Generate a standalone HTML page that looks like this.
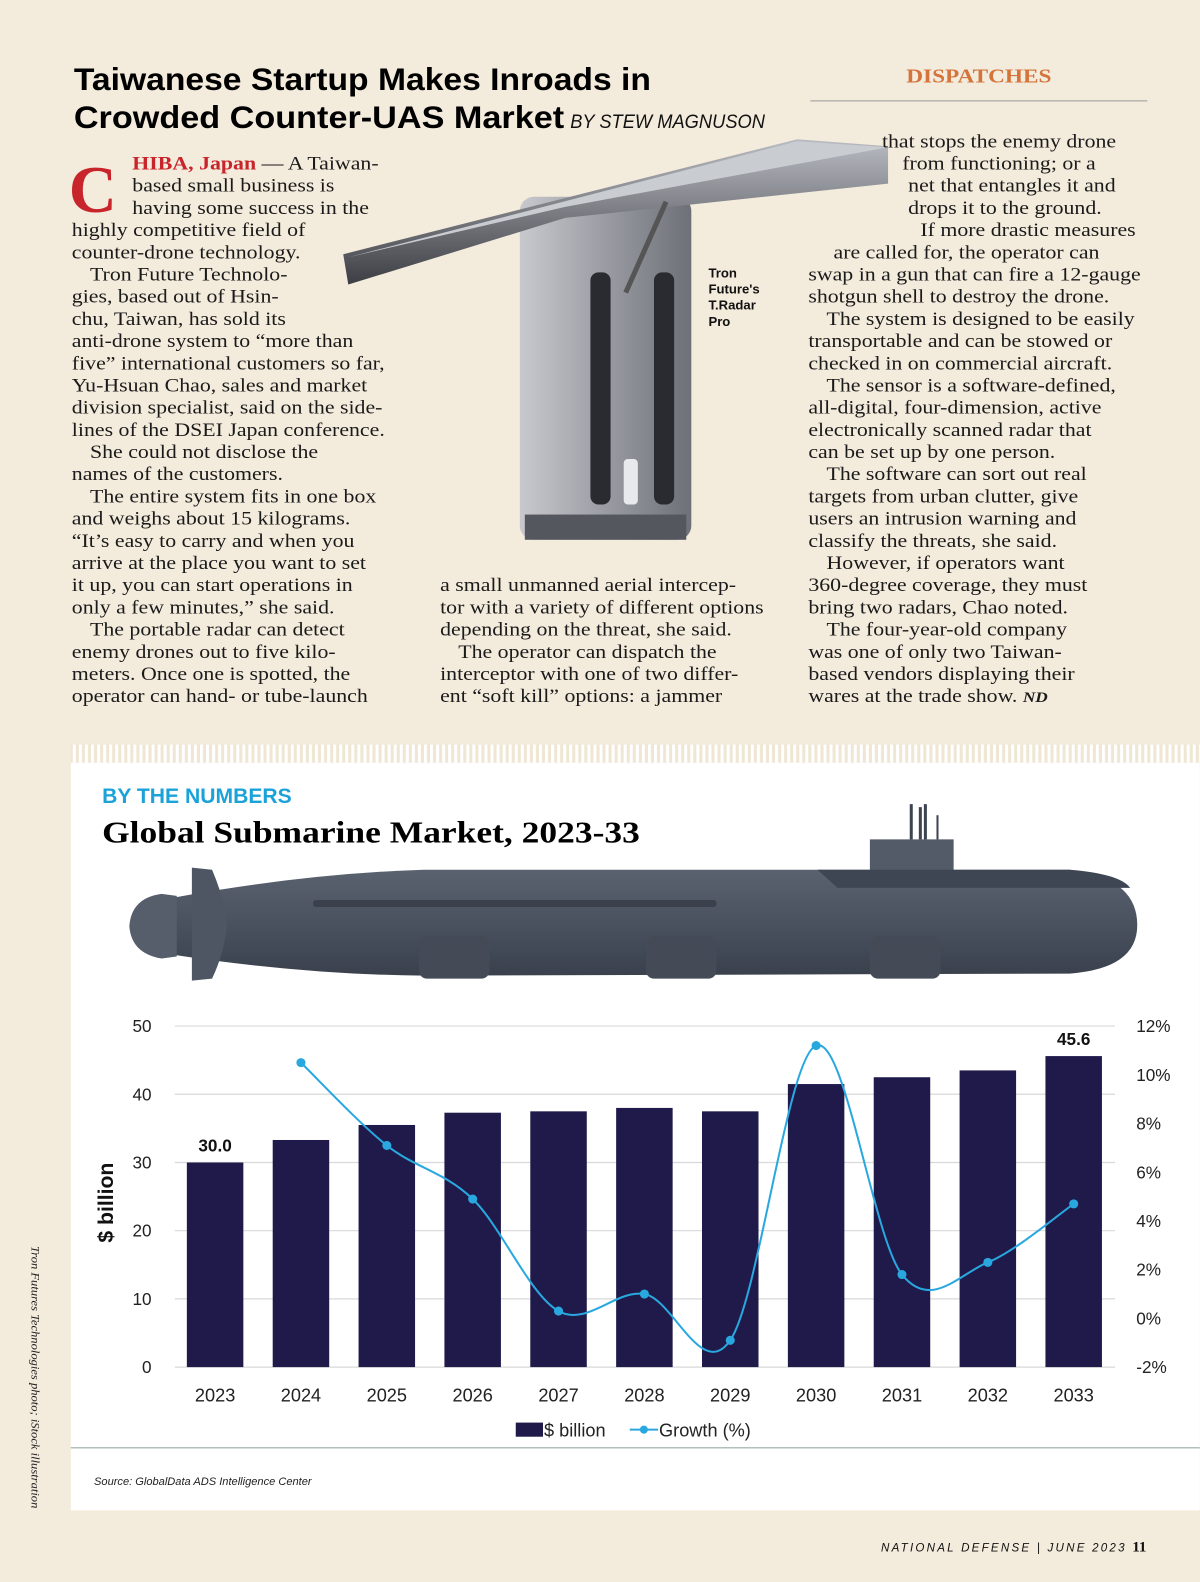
<!DOCTYPE html>
<html><head><meta charset="utf-8"><style>
html,body{margin:0;padding:0;background:#f3ebdc;}
svg{display:block;}
.serif{font-family:"Liberation Serif",serif;}
.sans{font-family:"Liberation Sans",sans-serif;}
</style></head><body>
<svg id="page" width="1200" height="1582" viewBox="0 0 1189 1568" xmlns="http://www.w3.org/2000/svg">
<defs>
<pattern id="stripes" width="6" height="20" patternUnits="userSpaceOnUse"><rect width="6" height="20" fill="#efe6d3"/><rect width="3" height="20" fill="#ffffff"/></pattern>
<linearGradient id="bodyG" x1="0" x2="1"><stop offset="0" stop-color="#c7c9ce"/><stop offset="0.5" stop-color="#9a9ca3"/><stop offset="1" stop-color="#6e7078"/></linearGradient>
<linearGradient id="panelG" x1="0" x2="0" y1="0" y2="1"><stop offset="0" stop-color="#b9bcc2"/><stop offset="1" stop-color="#3c3e44"/></linearGradient>
<linearGradient id="hullG" x1="0" x2="0" y1="0" y2="1"><stop offset="0" stop-color="#5a6270"/><stop offset="0.5" stop-color="#4a5260"/><stop offset="1" stop-color="#3a414d"/></linearGradient>
</defs>
<rect width="1189" height="1568" fill="#f3ebdc"/>

<text class="sans" x="73" y="89" font-size="31" font-weight="bold" textLength="572" lengthAdjust="spacingAndGlyphs" fill="#000">Taiwanese Startup Makes Inroads in</text>
<text class="sans" x="73" y="127" font-size="31" font-weight="bold" textLength="486" lengthAdjust="spacingAndGlyphs" fill="#000">Crowded Counter-UAS Market</text>
<text class="sans" x="565" y="127" font-size="19" font-style="italic" textLength="193" lengthAdjust="spacingAndGlyphs" fill="#111">BY STEW MAGNUSON</text>
<text class="serif" x="898" y="82" font-size="20" font-weight="bold" fill="#d4743a" textLength="144" lengthAdjust="spacingAndGlyphs">DISPATCHES</text>
<line x1="803" y1="100" x2="1137" y2="100" stroke="#999" stroke-width="1"/>

<g>
<rect x="515" y="195" width="170" height="340" rx="14" fill="url(#bodyG)"/>
<rect x="520" y="510" width="160" height="25" fill="#55575e"/>
<rect x="585" y="270" width="20" height="230" rx="8" fill="#2a2b30"/>
<rect x="648" y="270" width="20" height="230" rx="8" fill="#2a2b30"/>
<rect x="618" y="455" width="14" height="45" rx="4" fill="#e8e9ec"/>
<polygon points="340,252 790,138 880,145 880,182 560,216 345,282" fill="url(#panelG)"/>
<polygon points="345,255 790,140 880,146 560,205" fill="#c9ccd1"/>
<line x1="620" y1="290" x2="660" y2="200" stroke="#555" stroke-width="5"/>
</g>
<text class="sans" font-size="13" font-weight="bold" fill="#111"><tspan x="702" y="275">Tron</tspan><tspan x="702" y="291">Future's</tspan><tspan x="702" y="307">T.Radar</tspan><tspan x="702" y="323">Pro</tspan></text>

<text class="serif" x="68" y="210" font-size="66" font-weight="bold" fill="#c8242b">C</text>
<g class="serif" font-size="19" fill="#1a1a1a" transform="translate(71,0) scale(1.14,1) translate(-71,0)">
<text x="123.6" y="168"><tspan fill="#c8242b" font-weight="bold">HIBA, Japan</tspan> — A Taiwan-</text>
<text x="123.6" y="190">based small business is</text>
<text x="123.6" y="212">having some success in the</text>
<text x="71" y="234">highly competitive field of</text>
<text x="71" y="256">counter-drone technology.</text>
<text x="86.8" y="278">Tron Future Technolo-</text>
<text x="71" y="300">gies, based out of Hsin-</text>
<text x="71" y="322">chu, Taiwan, has sold its</text>
<text x="71" y="344">anti-drone system to “more than</text>
<text x="71" y="366">five” international customers so far,</text>
<text x="71" y="388">Yu-Hsuan Chao, sales and market</text>
<text x="71" y="410">division specialist, said on the side-</text>
<text x="71" y="432">lines of the DSEI Japan conference.</text>
<text x="86.8" y="454">She could not disclose the</text>
<text x="71" y="476">names of the customers.</text>
<text x="86.8" y="498">The entire system fits in one box</text>
<text x="71" y="520">and weighs about 15 kilograms.</text>
<text x="71" y="542">“It’s easy to carry and when you</text>
<text x="71" y="564">arrive at the place you want to set</text>
<text x="71" y="586">it up, you can start operations in</text>
<text x="71" y="608">only a few minutes,” she said.</text>
<text x="86.8" y="630">The portable radar can detect</text>
<text x="71" y="652">enemy drones out to five kilo-</text>
<text x="71" y="674">meters. Once one is spotted, the</text>
<text x="71" y="696">operator can hand- or tube-launch</text>
</g>
<g class="serif" font-size="19" fill="#1a1a1a" transform="translate(436,0) scale(1.14,1) translate(-436,0)">
<text x="436" y="586">a small unmanned aerial intercep-</text>
<text x="436" y="608">tor with a variety of different options</text>
<text x="436" y="630">depending on the threat, she said.</text>
<text x="451.8" y="652">The operator can dispatch the</text>
<text x="436" y="674">interceptor with one of two differ-</text>
<text x="436" y="696">ent “soft kill” options: a jammer</text>
</g>
<g class="serif" font-size="19" fill="#1a1a1a" transform="translate(801,0) scale(1.14,1) translate(-801,0)">
<text x="865" y="146">that stops the enemy drone</text>
<text x="882.6" y="168">from functioning; or a</text>
<text x="887.8" y="190">net that entangles it and</text>
<text x="887.8" y="212">drops it to the ground.</text>
<text x="898.4" y="234">If more drastic measures</text>
<text x="822.9" y="256">are called for, the operator can</text>
<text x="801" y="278">swap in a gun that can fire a 12-gauge</text>
<text x="801" y="300">shotgun shell to destroy the drone.</text>
<text x="816.8" y="322">The system is designed to be easily</text>
<text x="801" y="344">transportable and can be stowed or</text>
<text x="801" y="366">checked in on commercial aircraft.</text>
<text x="816.8" y="388">The sensor is a software-defined,</text>
<text x="801" y="410">all-digital, four-dimension, active</text>
<text x="801" y="432">electronically scanned radar that</text>
<text x="801" y="454">can be set up by one person.</text>
<text x="816.8" y="476">The software can sort out real</text>
<text x="801" y="498">targets from urban clutter, give</text>
<text x="801" y="520">users an intrusion warning and</text>
<text x="801" y="542">classify the threats, she said.</text>
<text x="816.8" y="564">However, if operators want</text>
<text x="801" y="586">360-degree coverage, they must</text>
<text x="801" y="608">bring two radars, Chao noted.</text>
<text x="816.8" y="630">The four-year-old company</text>
<text x="801" y="652">was one of only two Taiwan-</text>
<text x="801" y="674">based vendors displaying their</text>
<text x="801" y="696">wares at the trade show. <tspan font-weight="bold" font-style="italic" font-size="15">ND</tspan></text>
</g>

<rect x="70" y="738" width="1119" height="18" fill="url(#stripes)"/>
<rect x="70" y="756" width="1119" height="741" fill="#ffffff"/>
<text class="sans" x="101" y="796" font-size="21" font-weight="bold" fill="#1ba3d9" textLength="188" lengthAdjust="spacingAndGlyphs">BY THE NUMBERS</text>
<text class="serif" x="101" y="835" font-size="30" font-weight="bold" fill="#000" textLength="533" lengthAdjust="spacingAndGlyphs">Global Submarine Market, 2023-33</text>

<g>
<line x1="903" y1="797" x2="903" y2="832" stroke="#3d4450" stroke-width="3"/>
<line x1="912" y1="800" x2="912" y2="832" stroke="#3d4450" stroke-width="3"/>
<line x1="917" y1="797" x2="917" y2="832" stroke="#3d4450" stroke-width="3"/>
<line x1="929" y1="808" x2="929" y2="832" stroke="#3d4450" stroke-width="2"/>
<path d="M862,832 L945,832 L945,862 Q950,872 965,876 L862,876 Z" fill="#535b68"/>
<path d="M170,890 Q300,866 420,862 L1060,862 Q1127,870 1127,917 Q1127,960 1060,965 L420,967 Q300,966 170,946 Z" fill="url(#hullG)"/>
<path d="M810,862 L1060,862 Q1110,866 1120,880 L830,880 Z" fill="#3f4653"/>
<rect x="310" y="892" width="400" height="7" rx="3" fill="#3a414d"/>
<path d="M190,860 L210,862 Q222,890 225,916 Q222,945 210,970 L190,972 Z" fill="#4e5663"/>
<path d="M128,918 Q130,890 160,886 L175,888 L175,948 L160,950 Q130,945 128,918 Z" fill="#565e6b"/>
<rect x="415" y="928" width="70" height="42" rx="8" fill="#444b57"/>
<rect x="640" y="928" width="70" height="42" rx="8" fill="#444b57"/>
<rect x="862" y="928" width="70" height="42" rx="8" fill="#444b57"/>
</g>

<g id="chart"></g>

<line x1="70" y1="1435" x2="1189" y2="1435" stroke="#9aa" stroke-width="1"/>
<text class="sans" x="93" y="1472" font-size="11" font-style="italic" fill="#222">Source: GlobalData ADS Intelligence Center</text>

<text class="serif" transform="translate(31,1235) rotate(90)" font-size="11" font-style="italic" fill="#222" textLength="260" lengthAdjust="spacingAndGlyphs">Tron Futures Technologies photo; iStock illustration</text>
<text class="sans" x="873" y="1538" font-size="11.5" font-style="italic" letter-spacing="2.2" fill="#111">NATIONAL DEFENSE | JUNE 2023</text>
<text class="serif" x="1122" y="1538" font-size="15" font-weight="bold" fill="#111">11</text>
</svg>
<script>
const years = ["2023","2024","2025","2026","2027","2028","2029","2030","2031","2032","2033"];
const marketValues = [30.0, 33.3, 35.5, 37.3, 37.5, 38.0, 37.5, 41.5, 42.5, 43.5, 45.6];
const growthValues = [null, 10.5, 7.1, 4.9, 0.3, 1.0, -0.9, 11.2, 1.8, 2.3, 4.7];
const leftTicks = [0, 10, 20, 30, 40, 50];
const rightTicks = [-2, 0, 2, 4, 6, 8, 10, 12];

const NS = "http://www.w3.org/2000/svg";
const g = document.getElementById('chart');
const plotL = 173, plotR = 1105, yBase = 1355, yTop = 1017;
const step = (1064 - 213) / (years.length - 1);
function xPos(i){ return 213 + step * i; }
function yLeft(v){ return yBase - v / 50 * (yBase - yTop); }
function yRight(p){ return yBase - (p + 2) / 14 * (yBase - yTop); }
function mk(tag, attrs, text){
  const e = document.createElementNS(NS, tag);
  for (const k in attrs) e.setAttribute(k, attrs[k]);
  if (text !== undefined) e.textContent = text;
  g.appendChild(e);
  return e;
}
leftTicks.forEach(t => {
  const l = mk('line', {x1: plotL, x2: plotR, y1: yLeft(t), y2: yLeft(t), stroke: '#d9d9d9', 'stroke-width': 1.2});
  
  
  const tx = mk('text', {x: 150, y: yLeft(t) + 6, 'text-anchor': 'end', 'font-size': 17, fill: '#222', 'font-family': 'Liberation Sans, sans-serif'}, String(t));
  
  
});
rightTicks.forEach(t => {
  const tx = mk('text', {x: 1126, y: yRight(t) + 6, 'font-size': 17, fill: '#222', 'font-family': 'Liberation Sans, sans-serif'}, t + '%');
  
  
});
const bw = 56;
marketValues.forEach((v, i) => {
  const r = mk('rect', {x: xPos(i) - bw/2, y: yLeft(v), width: bw, height: yBase - yLeft(v), fill: '#1f1a4a'});
  
  
  const yl = mk('text', {x: xPos(i), y: 1389, 'text-anchor': 'middle', 'font-size': 18, fill: '#222', 'font-family': 'Liberation Sans, sans-serif'}, years[i]);
  
  
});
[0, marketValues.length - 1].forEach(i => {
  const t = mk('text', {x: xPos(i), y: yLeft(marketValues[i]) - 11, 'text-anchor': 'middle', 'font-size': 17, 'font-weight': 'bold', fill: '#111', 'font-family': 'Liberation Sans, sans-serif'}, marketValues[i].toFixed(1));
  
  
});
const pts = [];
growthValues.forEach((p, i) => { if (p !== null) pts.push([xPos(i), yRight(p)]); });
let d = 'M' + pts[0][0] + ',' + pts[0][1];
for (let i = 0; i < pts.length - 1; i++) {
  const p0 = pts[i-1] || pts[i], p1 = pts[i], p2 = pts[i+1], p3 = pts[i+2] || p2;
  const c1 = [p1[0] + (p2[0]-p0[0])/6, p1[1] + (p2[1]-p0[1])/6];
  const c2 = [p2[0] - (p3[0]-p1[0])/6, p2[1] - (p3[1]-p1[1])/6];
  d += ' C' + c1.join(',') + ' ' + c2.join(',') + ' ' + p2.join(',');
}
const line = mk('path', {d: d, fill: 'none', stroke: '#29a8e0', 'stroke-width': 2});


pts.forEach(p => {
  const c = mk('circle', {cx: p[0], cy: p[1], r: 4.5, fill: '#29a8e0'});
  
  
});
const yt = mk('text', {transform: 'translate(112,1192) rotate(-90)', 'text-anchor': 'middle', 'font-size': 21, 'font-weight': 'bold', fill: '#111', 'font-family': 'Liberation Sans, sans-serif'}, '$ billion');


const lr = mk('rect', {x: 511, y: 1410, width: 27, height: 14, fill: '#1f1a4a'});


const lt1 = mk('text', {x: 539, y: 1424, 'font-size': 18, fill: '#222', 'font-family': 'Liberation Sans, sans-serif'}, '$ billion');


const ll = mk('line', {x1: 624, x2: 652, y1: 1417, y2: 1417, stroke: '#29a8e0', 'stroke-width': 2});


const lc = mk('circle', {cx: 638, cy: 1417, r: 4, fill: '#29a8e0'});


const lt2 = mk('text', {x: 653, y: 1424, 'font-size': 18, fill: '#222', 'font-family': 'Liberation Sans, sans-serif'}, 'Growth (%)');


</script>
</body></html>
